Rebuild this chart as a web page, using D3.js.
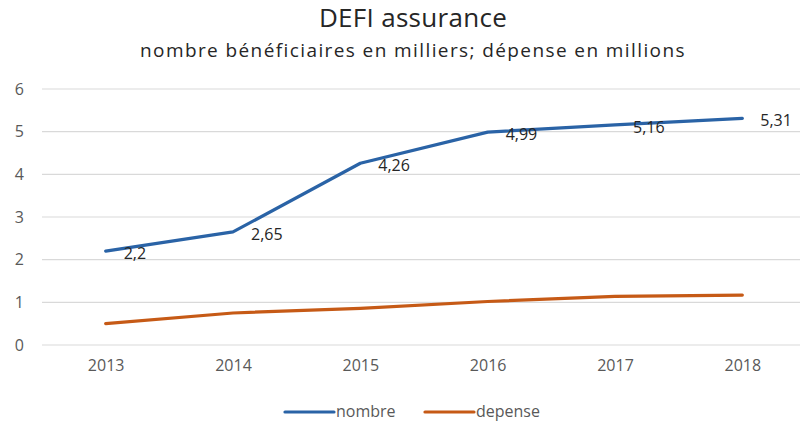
<!DOCTYPE html>
<html>
<head>
<meta charset="utf-8">
<script src="https://cdn.jsdelivr.net/npm/d3@7"></script>
<style>
  body { margin: 0; background: #fff; }
  svg text { font-family: "Open Sans", Lato, sans-serif; }
</style>
</head>
<body>
<div id="chart"></div>
<script>
// data
const years = ["2013", "2014", "2015", "2016", "2017", "2018"];
const nombre = [2.2, 2.65, 4.26, 4.99, 5.16, 5.31];
const depense = [0.5, 0.75, 0.86, 1.02, 1.14, 1.17];
const nombreLabels = ["2,2", "2,65", "4,26", "4,99", "5,16", "5,31"];
const yTicks = [0, 1, 2, 3, 4, 5, 6];

const width = 802;
const height = 426;
const font = "'Open Sans', Lato, sans-serif";

const svg = d3.select("#chart")
    .append("svg")
    .attr("width", width)
    .attr("height", height);

const x = d3.scalePoint()
    .domain(years)
    .range([42, 806])
    .padding(0.5);

const y = d3.scaleLinear()
    .domain([0, 6])
    .range([345, 89]);

// title
svg.append("text")
    .attr("x", 413).attr("y", 27)
    .attr("text-anchor", "middle")
    .attr("font-size", 26)
    .attr("letter-spacing", 0.3)
    .attr("fill", "#262626")
    .text("DEFI assurance");

svg.append("text")
    .attr("x", 413).attr("y", 57)
    .attr("text-anchor", "middle")
    .attr("font-size", 19)
    .attr("letter-spacing", 1.4)
    .attr("fill", "#262626")
    .text("nombre bénéficiaires en milliers; dépense en millions");

// gridlines
svg.append("g")
    .selectAll("line")
    .data(yTicks)
    .enter().append("line")
    .attr("x1", 42).attr("x2", 800)
    .attr("y1", d => y(d)).attr("y2", d => y(d))
    .attr("stroke", "#d9d9d9")
    .attr("stroke-width", 1.2);

// y axis labels
const yAxis = svg.append("g")
    .attr("transform", "translate(24,0)")
    .call(d3.axisLeft(y).tickValues(yTicks).tickFormat(d3.format("d")).tickSize(0).tickPadding(0));
yAxis.select(".domain").remove();
yAxis.selectAll("text")
    .attr("font-size", 16)
    .attr("fill", "#595959")
    .attr("font-family", font);

// x axis labels
const xAxis = svg.append("g")
    .attr("transform", "translate(0,360)")
    .call(d3.axisBottom(x).tickSize(0).tickPadding(0));
xAxis.select(".domain").remove();
xAxis.selectAll("text")
    .attr("font-size", 16)
    .attr("fill", "#595959")
    .attr("font-family", font);

const line = d3.line()
    .x((d, i) => x(years[i]))
    .y(d => y(d));

const series = [
    {name: "nombre", values: nombre, color: "#2a63a6"},
    {name: "depense", values: depense, color: "#c65a16"}
];

svg.selectAll("path.series")
    .data(series)
    .enter().append("path")
    .attr("class", "series")
    .attr("d", d => line(d.values))
    .attr("fill", "none")
    .attr("stroke", d => d.color)
    .attr("stroke-width", 3.2)
    .attr("stroke-linejoin", "round")
    .attr("stroke-linecap", "round");

// data labels on nombre
svg.append("g")
    .selectAll("text")
    .data(nombre)
    .enter().append("text")
    .attr("x", (d, i) => x(years[i]) + 18)
    .attr("y", d => y(d) + 8)
    .attr("font-size", 16)
    .attr("fill", "#262626")
    .text((d, i) => nombreLabels[i]);

// legend
const legend = svg.append("g")
    .selectAll("g")
    .data(series)
    .enter().append("g")
    .attr("transform", (d, i) => `translate(${285 + i * 140},412)`);

legend.append("line")
    .attr("x1", 0).attr("x2", 49)
    .attr("stroke", d => d.color)
    .attr("stroke-width", 3.2)
    .attr("stroke-linecap", "round");

legend.append("text")
    .attr("x", 51).attr("y", 5)
    .attr("font-size", 16)
    .attr("fill", "#595959")
    .text(d => d.name);
</script>
</body>
</html>
